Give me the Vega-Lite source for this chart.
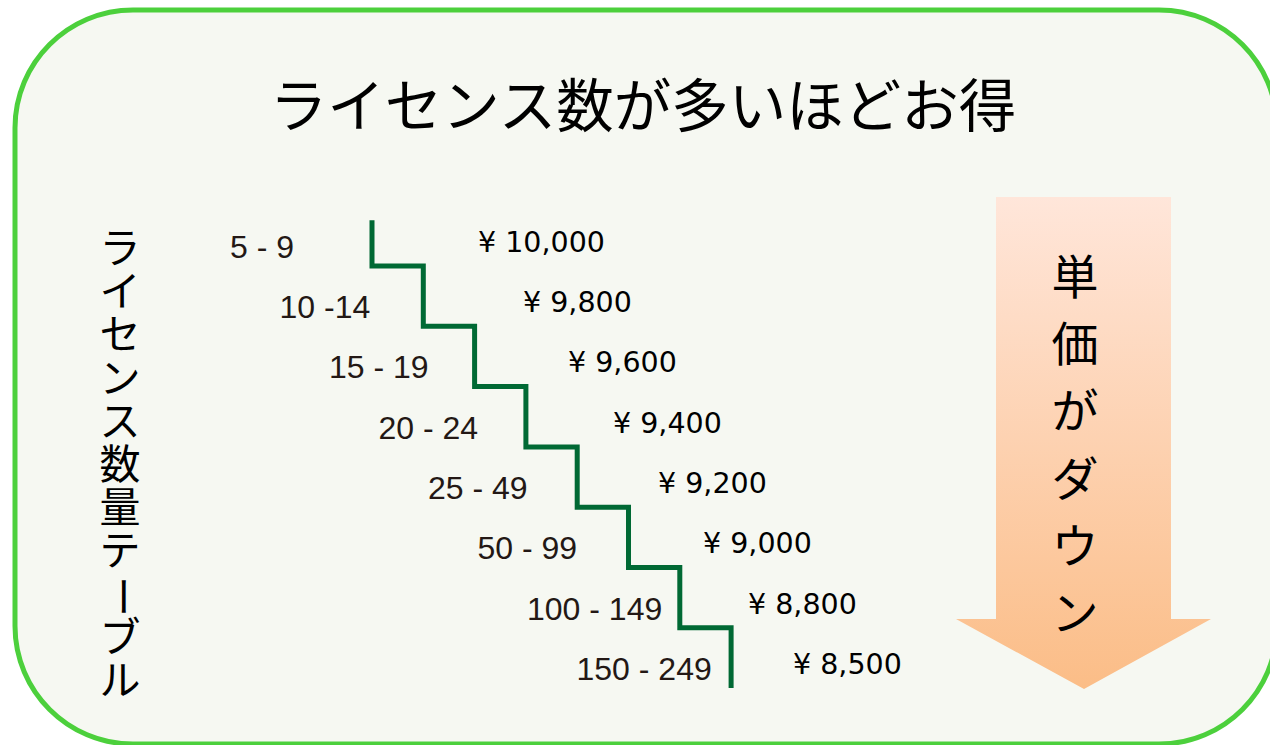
{
  "$schema": "https://vega.github.io/schema/vega-lite/v6.json",
  "width": 1270,
  "height": 745,
  "autosize": {"type": "none"},
  "padding": 0,
  "background": "#ffffff",
  "config": {
    "view": {"stroke": null},
    "locale": {"number": {"decimal": ".", "thousands": ",", "grouping": [3], "currency": ["¥ ", ""]}}
  },
  "datasets": {
    "tiers": [
      {"licenses": "5 - 9", "price": 10000, "step": 0},
      {"licenses": "10 -14", "price": 9800, "step": 1},
      {"licenses": "15 - 19", "price": 9600, "step": 2},
      {"licenses": "20 - 24", "price": 9400, "step": 3},
      {"licenses": "25 - 49", "price": 9200, "step": 4},
      {"licenses": "50 - 99", "price": 9000, "step": 5},
      {"licenses": "100 - 149", "price": 8800, "step": 6},
      {"licenses": "150 - 249", "price": 8500, "step": 7}
    ],
    "stairs": [
      {"n": 0, "s": 0, "lv": 0.24}, {"n": 1, "s": 0, "lv": 1},
      {"n": 2, "s": 1, "lv": 1}, {"n": 3, "s": 1, "lv": 2},
      {"n": 4, "s": 2, "lv": 2}, {"n": 5, "s": 2, "lv": 3},
      {"n": 6, "s": 3, "lv": 3}, {"n": 7, "s": 3, "lv": 4},
      {"n": 8, "s": 4, "lv": 4}, {"n": 9, "s": 4, "lv": 5},
      {"n": 10, "s": 5, "lv": 5}, {"n": 11, "s": 5, "lv": 6},
      {"n": 12, "s": 6, "lv": 6}, {"n": 13, "s": 6, "lv": 7},
      {"n": 14, "s": 7, "lv": 7}, {"n": 15, "s": 7, "lv": 8}
    ],
    "leftText": [
      {"ch": "ラ", "i": 0}, {"ch": "イ", "i": 1}, {"ch": "セ", "i": 2}, {"ch": "ン", "i": 3},
      {"ch": "ス", "i": 4}, {"ch": "数", "i": 5}, {"ch": "量", "i": 6}, {"ch": "テ", "i": 7},
      {"ch": "ー", "i": 8}, {"ch": "ブ", "i": 9}, {"ch": "ル", "i": 10}
    ],
    "arrowText": [
      {"ch": "単", "i": 0}, {"ch": "価", "i": 1}, {"ch": "が", "i": 2},
      {"ch": "ダ", "i": 3}, {"ch": "ウ", "i": 4}, {"ch": "ン", "i": 5}
    ],
    "arrow": [
      {"ay": 197, "ax": 996, "ax2": 1171},
      {"ay": 619, "ax": 996, "ax2": 1171},
      {"ay": 619, "ax": 956, "ax2": 1211},
      {"ay": 689, "ax": 1084, "ax2": 1084}
    ]
  },
  "layer": [
    {
      "data": {"values": [{"left": 15, "right": 1277, "top": 10, "bottom": 744}]},
      "mark": {"type": "rect", "fill": "#F6F8F2", "stroke": "#4CD03C", "strokeWidth": 5, "cornerRadius": 118},
      "encoding": {
        "x": {"field": "left", "type": "quantitative", "scale": {"domain": [0, 1270], "nice": false, "zero": false}, "axis": null},
        "x2": {"field": "right"},
        "y": {"field": "top", "type": "quantitative", "scale": {"domain": [0, 745], "reverse": true, "nice": false, "zero": false}, "axis": null},
        "y2": {"field": "bottom"}
      }
    },
    {
      "data": {"name": "arrow"},
      "mark": {
        "type": "area",
        "orient": "horizontal",
        "color": {"gradient": "linear", "x1": 0, "y1": 0, "x2": 0, "y2": 1,
          "stops": [{"offset": 0, "color": "#FFE6DA"}, {"offset": 1, "color": "#FBBD87"}]}
      },
      "encoding": {
        "y": {"field": "ay", "type": "quantitative", "scale": {"domain": [0, 745], "reverse": true, "nice": false, "zero": false}, "axis": null},
        "x": {"field": "ax", "type": "quantitative", "scale": {"domain": [0, 1270], "nice": false, "zero": false}, "axis": null},
        "x2": {"field": "ax2"}
      }
    },
    {
      "data": {"values": [{"t": "ライセンス数が多いほどお得"}]},
      "mark": {"type": "text", "font": "Noto Sans CJK JP", "fontSize": 57.5, "color": "#000000", "align": "center", "baseline": "middle"},
      "encoding": {
        "text": {"field": "t"},
        "x": {"datum": 643, "type": "quantitative", "scale": {"domain": [0, 1270], "nice": false, "zero": false}, "axis": null},
        "y": {"datum": 110, "type": "quantitative", "scale": {"domain": [0, 745], "reverse": true, "nice": false, "zero": false}, "axis": null}
      }
    },
    {
      "data": {"name": "leftText"},
      "transform": [{"filter": "datum.ch !== 'ー'"}],
      "mark": {"type": "text", "font": "Noto Sans CJK JP", "fontSize": 41, "color": "#000000", "align": "center", "baseline": "middle"},
      "encoding": {
        "text": {"field": "ch"},
        "x": {"datum": 120, "type": "quantitative", "scale": {"domain": [0, 1270], "nice": false, "zero": false}, "axis": null},
        "y": {"field": "i", "type": "quantitative", "scale": {"domain": [-5.81, 11.435], "reverse": true, "nice": false, "zero": false}, "axis": null}
      }
    },
    {
      "data": {"name": "leftText"},
      "transform": [{"filter": "datum.ch === 'ー'"}],
      "mark": {"type": "text", "font": "Noto Sans CJK JP", "fontSize": 41, "color": "#000000", "align": "center", "baseline": "middle", "angle": 90},
      "encoding": {
        "text": {"field": "ch"},
        "x": {"datum": 120, "type": "quantitative", "scale": {"domain": [0, 1270], "nice": false, "zero": false}, "axis": null},
        "y": {"field": "i", "type": "quantitative", "scale": {"domain": [-5.81, 11.435], "reverse": true, "nice": false, "zero": false}, "axis": null}
      }
    },
    {
      "data": {"name": "arrowText"},
      "mark": {"type": "text", "font": "Noto Sans CJK JP", "fontSize": 47, "color": "#000000", "align": "center", "baseline": "middle"},
      "encoding": {
        "text": {"field": "ch"},
        "x": {"datum": 1075, "type": "quantitative", "scale": {"domain": [0, 1270], "nice": false, "zero": false}, "axis": null},
        "y": {"field": "i", "type": "quantitative", "scale": {"domain": [-4.1667, 6.919], "reverse": true, "nice": false, "zero": false}, "axis": null}
      }
    },
    {
      "data": {"name": "stairs"},
      "mark": {"type": "line", "color": "#006934", "strokeWidth": 5, "strokeJoin": "miter", "strokeCap": "butt"},
      "encoding": {
        "x": {"field": "s", "type": "quantitative", "scale": {"domain": [-7.2515, 17.5048], "nice": false, "zero": false}, "axis": null},
        "y": {"field": "lv", "type": "quantitative", "scale": {"domain": [-3.4113, 8.9436], "reverse": true, "nice": false, "zero": false}, "axis": null},
        "order": {"field": "n"}
      }
    },
    {
      "data": {"name": "tiers"},
      "mark": {"type": "text", "font": "Liberation Sans", "fontSize": 32, "color": "#231815", "align": "left", "baseline": "middle", "dy": 42},
      "encoding": {
        "text": {"field": "licenses"},
        "x": {"field": "step", "type": "quantitative", "scale": {"domain": [-4.6465, 21.0101], "nice": false, "zero": false}, "axis": null},
        "y": {"field": "step", "type": "quantitative", "scale": {"domain": [-3.4113, 8.9436], "reverse": true, "nice": false, "zero": false}, "axis": null}
      }
    },
    {
      "data": {"name": "tiers"},
      "mark": {"type": "text", "font": "DejaVu Sans", "fontSize": 28.5, "color": "#000000", "align": "left", "baseline": "middle", "dy": 37},
      "encoding": {
        "text": {"field": "price", "type": "quantitative", "format": "$,.0f"},
        "x": {"field": "step", "type": "quantitative", "scale": {"domain": [-10.6222, 17.6], "nice": false, "zero": false}, "axis": null},
        "y": {"field": "step", "type": "quantitative", "scale": {"domain": [-3.4113, 8.9436], "reverse": true, "nice": false, "zero": false}, "axis": null}
      }
    }
  ],
  "resolve": {"scale": {"x": "independent", "y": "independent"}}
}
